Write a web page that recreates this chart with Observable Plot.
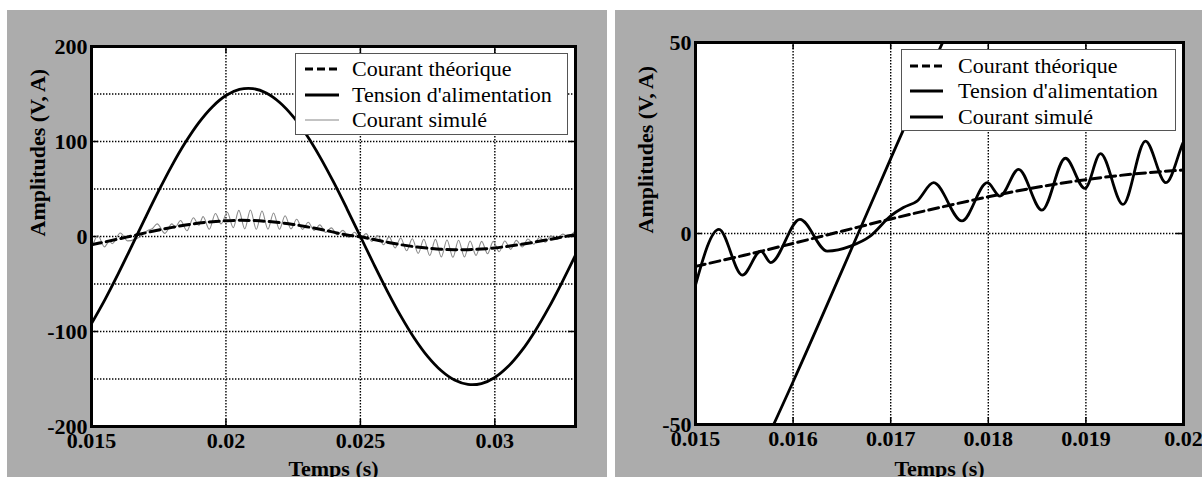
<!DOCTYPE html>
<html><head><meta charset="utf-8">
<script src="https://cdn.jsdelivr.net/npm/d3@7"></script>
<script src="https://cdn.jsdelivr.net/npm/@observablehq/plot@0.6"></script>
<style>
body{margin:0;background:#fff;}
#wrap{position:relative;width:1202px;height:477px;overflow:hidden;background:#fff;font-family:"Liberation Serif","Times New Roman",serif;}
.panel{position:absolute;top:10px;height:467px;background-color:#acacac;}
.legend{position:absolute;}
</style></head>
<body>
<div id="wrap">
  <div class="panel" id="left" style="left:7px;width:600px;"></div>
  <div class="panel" id="right" style="left:615px;width:587px;"></div>
</div>
<script>
// ---- data ----
const tGrid = [0.015,0.0155,0.016,0.0165,0.017,0.0175,0.018,0.0185,0.019,0.0195,0.02,0.0205,0.021,0.0215,0.022,0.0225,0.023,0.0235,0.024,0.0245,0.025,0.0255,0.026,0.0265,0.027,0.0275,0.028,0.0285,0.029,0.0295,0.03,0.0305,0.031,0.0315,0.032,0.0325,0.033];
const tension = [-91.7,-66.4,-38.8,-9.8,19.6,48.2,75.2,99.4,120.2,136.7,148.4,154.8,155.7,151.1,141.1,126.2,106.8,83.6,57.4,29.2,0,-29.2,-57.4,-83.6,-106.8,-126.2,-141.1,-151.1,-155.7,-154.8,-148.4,-136.7,-120.2,-99.4,-75.2,-48.2,-19.6];
const courantTheorique = [-8.6,-5.7,-2.6,0.6,3.8,6.8,9.6,12.1,14.1,15.6,16.6,17.0,16.8,16.0,14.6,12.7,10.3,7.6,4.6,1.5,-0.3,-3.2,-6.0,-8.6,-10.7,-12.3,-13.5,-14.0,-13.9,-13.2,-12.0,-10.3,-8.2,-5.8,-3.3,-0.6,2.0];
const tSim = [0.0150,0.01524,0.01548,0.01567,0.01577,0.01607,0.01635,0.01659,0.01679,0.0170,0.01713,0.01727,0.01744,0.01773,0.01799,0.01812,0.01831,0.01855,0.01879,0.01899,0.01915,0.01938,0.01961,0.01982,
 0.02005,0.02027,0.02048,0.0207,0.02091,0.02113,0.02134,0.02156,0.02177,0.02199,0.0222,0.02242,0.02263,0.02285,0.02306,0.02328,0.02349,0.02371,0.02392,0.02414,0.02435,0.02457,0.02478,0.025,0.02521,0.02543,0.02564,0.02586,0.02607,0.02629,0.0265,0.02672,0.02693,0.02715,0.02736,0.02758,0.02779,0.02801,0.02822,0.02844,0.02865,0.02887,0.02908,0.0293,0.02951,0.02973,0.02994,0.03016,0.03037,0.03059,0.0308,0.03102,0.03123,0.03145,0.03166,0.03188,0.03209,0.03231,0.03252,0.03274,0.03295];
const courantSimule = [-13.5,1.1,-10.9,-4.6,-7.6,3.7,-4.6,-3.3,-0.7,4.6,6.8,8.5,13.3,3.3,13.3,9.8,16.8,6.1,19.7,11.8,20.9,7.6,24.2,13.3,
 25.5,9.3,27.5,8.0,27.9,7.6,26.8,7.8,24.8,7.6,21.9,8.0,18.2,7.5,15.0,6.3,12.2,4.3,9.1,1.7,6.4,-0.9,4.4,-2.3,3.0,-5.3,1.0,-8.7,-0.4,-12.0,-1.6,-15.0,-2.4,-17.7,-2.9,-20.0,-3.0,-21.5,-3.7,-21.9,-4.0,-21.5,-4.8,-19.9,-5.1,-18.1,-5.1,-16.0,-4.8,-13.5,-4.1,-11.1,-2.6,-8.1,-1.0,-5.9,0.7,-3.2,2.5,-0.3,4.8];
const legendNames = ["Courant théorique","Tension d'alimentation","Courant simulé"];
const xLabel = "Temps (s)";
const yLabel = "Amplitudes (V, A)";
// left panel axes
const leftXDomain = [0.015, 0.033];
const leftXTicks = [0.015, 0.02, 0.025, 0.03];
const leftYDomain = [-200, 200];
const leftYTicks = [-200, -100, 0, 100, 200];
const leftYGrid = [-150, -100, -50, 0, 50, 100, 150];
// right panel axes
const rightXDomain = [0.015, 0.02];
const rightXTicks = [0.015, 0.016, 0.017, 0.018, 0.019, 0.02];
const rightYDomain = [-50, 50];
const rightYTicks = [-50, 0, 50];
const rightYGrid = [0];

const rowsV = tGrid.map((t,i)=>({t, v: tension[i]}));
const rowsI = tGrid.map((t,i)=>({t, v: courantTheorique[i]}));
const rowsS = tSim.map((t,i)=>({t, v: courantSimule[i]}));

function panel(o){
  const H = 467;
  const ph = H - o.mt - o.mb, pw = o.width - o.ml - o.mr;
  const innerX = o.xTicks.filter(d => d > o.xDomain[0] && d < o.xDomain[1]);
  const innerY = o.yTicks.filter(d => d > o.yDomain[0] && d < o.yDomain[1]);
  const grid = {stroke:"#000", strokeWidth:1.4, strokeDasharray:"1.4,1.6"};
  return Plot.plot({
    width: o.width, height: H,
    marginLeft: o.ml, marginRight: o.mr, marginTop: o.mt, marginBottom: o.mb,
    style: {background:"transparent", fontFamily:"'Liberation Serif','Times New Roman',serif", fontSize:"22px", fontWeight:"bold", color:"#000"},
    x: {domain: o.xDomain, ticks: o.xTicks, tickFormat: d => String(d), tickSize: 0, tickPadding: 6, label: null},
    y: {domain: o.yDomain, ticks: o.yTicks, tickFormat: d => String(d), tickSize: 0, tickPadding: 4, label: null},
    marks: [
      Plot.frame({fill:"#fff"}),
      Plot.ruleX(innerX, grid),
      Plot.ruleY(o.yGrid, grid),
      Plot.ruleX(innerX, {stroke:"#000", strokeWidth:1.5, insetBottom: ph - 7}),
      Plot.ruleX(innerX, {stroke:"#000", strokeWidth:1.5, insetTop: ph - 7}),
      Plot.ruleY(innerY, {stroke:"#000", strokeWidth:1.5, insetRight: pw - 7}),
      Plot.ruleY(innerY, {stroke:"#000", strokeWidth:1.5, insetLeft: pw - 7}),
      Plot.line(rowsS, {x:"t", y:"v", curve:"monotone-x", stroke:o.simStroke, strokeWidth:o.simWidth, clip:true}),
      Plot.line(rowsI, {x:"t", y:"v", curve:"catmull-rom", stroke:"#000", strokeWidth:3, strokeDasharray:"10,5", clip:true}),
      Plot.line(rowsV, {x:"t", y:"v", curve:"catmull-rom", stroke:"#000", strokeWidth:2.8, clip:true}),
      Plot.frame({stroke:"#000", strokeWidth:3}),
      Plot.text([xLabel], {text: d=>d, frameAnchor:"bottom", dy: o.xlDy, fontSize:22, fill:"#000", lineAnchor:"middle"}),
      Plot.text([yLabel], {text: d=>d, frameAnchor:"left", dx: o.ylDx, rotate:-90, fontSize:22, fill:"#000", lineAnchor:"middle"})
    ]
  });
}

function legend(o){
  const svg = d3.create("svg").attr("class","legend")
    .attr("width", o.w).attr("height", o.h)
    .style("left", o.x+"px").style("top", o.y+"px");
  svg.append("rect").attr("x",0.5).attr("y",0.5).attr("width",o.w-1).attr("height",o.h-1)
    .attr("fill","#fff").attr("stroke","#555").attr("stroke-width",1);
  legendNames.forEach((name,i)=>{
    const by = o.base[i];
    const s = o.styles[i];
    svg.append("line").attr("x1",o.lx1).attr("x2",o.lx2).attr("y1",by-7).attr("y2",by-7)
      .attr("stroke",s.c).attr("stroke-width",s.w).attr("stroke-dasharray",s.dash||null);
    svg.append("text").attr("x",o.tx).attr("y",by).text(name)
      .attr("font-family","'Liberation Serif','Times New Roman',serif").attr("font-size",22).attr("fill","#000");
  });
  return svg.node();
}

const left = panel({width:600, ml:84, mr:32, mt:36, mb:51, xDomain:leftXDomain, xTicks:leftXTicks,
  yDomain:leftYDomain, yTicks:leftYTicks, yGrid:leftYGrid, simStroke:"#8a8a8a", simWidth:1.1, xlDy:42, ylDx:-54});
document.getElementById("left").appendChild(left);
const right = panel({width:587, ml:80, mr:19, mt:32, mb:53, xDomain:rightXDomain, xTicks:rightXTicks,
  yDomain:rightYDomain, yTicks:rightYTicks, yGrid:rightYGrid, simStroke:"#000", simWidth:2.8, xlDy:44, ylDx:-50});
document.getElementById("right").appendChild(right);

const wrap = document.getElementById("wrap");
wrap.appendChild(legend({x:295, y:53, w:273, h:82, lx1:10, lx2:44, tx:57, base:[23,49,74],
  styles:[{c:"#000",w:3,dash:"8,4"},{c:"#000",w:3},{c:"#888",w:1.2}]}));
wrap.appendChild(legend({x:901, y:49, w:275, h:82, lx1:9, lx2:42, tx:57, base:[24,49,75],
  styles:[{c:"#000",w:3,dash:"8,4"},{c:"#000",w:3},{c:"#000",w:3}]}));
</script>
</body></html>
